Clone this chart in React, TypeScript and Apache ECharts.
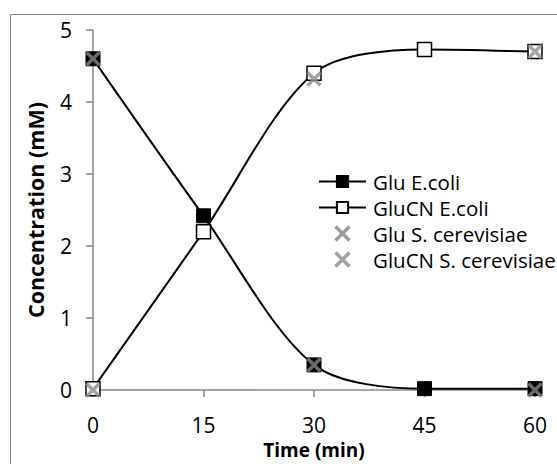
import React, { useEffect, useRef } from "react";
import * as echarts from "echarts";

const times = [0, 15, 30, 45, 60];
const gluEcoli = [4.6, 2.42, 0.35, 0.02, 0.02];
const glucnEcoli = [0.02, 2.2, 4.4, 4.73, 4.7];
const scerTimes = [0, 30, 60];
const gluScer = [4.6, 0.35, 0.0];
const glucnScer = [0.0, 4.32, 4.7];

const FONT = "'Open Sans', 'Noto Sans', sans-serif";
const X_PATH = "path://M0,0L10,10M10,0L0,10";

export default function App() {
  const ref = useRef<HTMLDivElement>(null);
  useEffect(() => {
    if (!ref.current) return;
    const chart = echarts.init(ref.current, undefined, { renderer: "svg" });
    const pair = (xs: number[], ys: number[]) => xs.map((x, i) => [x, ys[i]]);
    chart.setOption({
      animation: false,
      backgroundColor: "#ffffff",
      textStyle: { fontFamily: FONT },
      graphic: [
        {
          type: "rect",
          shape: { x: 10.5, y: 14.5, width: 560, height: 470 },
          style: { fill: "none", stroke: "#8a8a8a", lineWidth: 1 },
          silent: true,
        },
      ],
      grid: { left: 93, top: 30, right: 22, bottom: 70 },
      legend: {
        orient: "vertical",
        left: 313,
        top: 166,
        itemWidth: 47,
        itemHeight: 14,
        itemGap: 5,
        textStyle: { fontFamily: FONT, fontSize: 20.5, color: "#000", padding: [0, 0, 0, 2] },
        data: [
          { name: "Glu E.coli" },
          { name: "GluCN E.coli" },
          {
            name: "Glu S. cerevisiae",
            icon: X_PATH,
            itemStyle: { color: "none", borderColor: "#858585", borderWidth: 3.5 },
          },
          {
            name: "GluCN S. cerevisiae",
            icon: X_PATH,
            itemStyle: { color: "none", borderColor: "#8c8c8c", borderWidth: 3.5 },
          },
        ],
      },
      xAxis: {
        type: "value",
        min: 0,
        max: 60,
        interval: 15,
        name: "Time (min)",
        nameLocation: "middle",
        nameGap: 48,
        nameTextStyle: { fontFamily: FONT, fontSize: 19, fontWeight: "bold", color: "#000" },
        axisLine: { lineStyle: { color: "#888888", width: 1.5 } },
        axisTick: { show: true, length: 7, lineStyle: { color: "#888888", width: 1.5 } },
        axisLabel: { fontFamily: FONT, fontSize: 21, color: "#000", margin: 24 },
        splitLine: { show: false },
      },
      yAxis: {
        type: "value",
        min: 0,
        max: 5,
        interval: 1,
        name: "Concentration (mM)",
        nameLocation: "middle",
        nameGap: 47,
        nameTextStyle: { fontFamily: FONT, fontSize: 21.5, fontWeight: "bold", color: "#000" },
        axisLine: { show: true, lineStyle: { color: "#888888", width: 1.5 } },
        axisTick: { show: true, length: 7, lineStyle: { color: "#888888", width: 1.5 } },
        axisLabel: { fontFamily: FONT, fontSize: 21, color: "#000", margin: 21 },
        splitLine: { show: false },
      },
      series: [
        {
          name: "Glu E.coli",
          type: "line",
          smooth: 0.3,
          data: pair(times, gluEcoli),
          symbol: "rect",
          symbolSize: 14,
          lineStyle: { color: "#000", width: 2 },
          itemStyle: { color: "#000", borderColor: "#000", borderWidth: 1 },
          z: 2,
        },
        {
          name: "GluCN E.coli",
          type: "line",
          smooth: 0.3,
          data: pair(times, glucnEcoli),
          symbol: "rect",
          symbolSize: 14,
          lineStyle: { color: "#000", width: 2 },
          itemStyle: { color: "#fff", borderColor: "#000", borderWidth: 1.5 },
          z: 2,
        },
        {
          name: "Glu S. cerevisiae",
          type: "scatter",
          data: pair(scerTimes, gluScer),
          symbol: X_PATH,
          symbolSize: 13,
          itemStyle: { color: "none", borderColor: "#858585", borderWidth: 3.5 },
          z: 3,
        },
        {
          name: "GluCN S. cerevisiae",
          type: "scatter",
          data: pair(scerTimes, glucnScer),
          symbol: X_PATH,
          symbolSize: 13,
          itemStyle: { color: "none", borderColor: "#8c8c8c", borderWidth: 3.5 },
          z: 3,
        },
      ],
    });
    return () => chart.dispose();
  }, []);
  return (
    <div
      ref={ref}
      style={{ position: "fixed", left: 0, top: 0, width: 557, height: 464 }}
    />
  );
}
